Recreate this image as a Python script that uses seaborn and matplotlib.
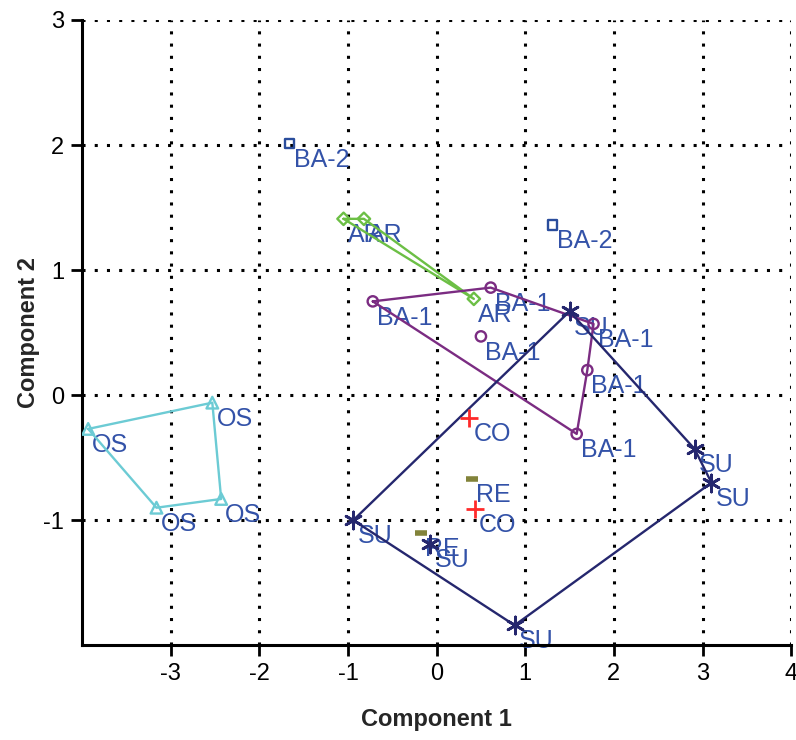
import matplotlib
matplotlib.use("Agg")
import matplotlib.pyplot as plt
import seaborn as sns
import pandas as pd

# ---- data ----
ba2_x = [-1.66, 1.31]
ba2_y = [2.01, 1.36]

ar_x = [-1.05, -0.82, 0.42]
ar_y = [1.41, 1.41, 0.77]
ar_hull = [0, 1, 2, 0]

ba1_x = [-0.72, 0.61, 1.77, 1.70, 1.58, 0.50]
ba1_y = [0.75, 0.86, 0.57, 0.20, -0.31, 0.47]
ba1_hull = [0, 1, 2, 3, 4, 0]

su_x = [1.50, 2.91, 3.10, 0.88, -0.94, -0.07]
su_y = [0.67, -0.43, -0.70, -1.84, -1.00, -1.19]
su_hull = [0, 1, 2, 3, 4, 0]

os_x = [-3.93, -2.53, -2.43, -3.16]
os_y = [-0.27, -0.06, -0.83, -0.90]
os_hull = [0, 1, 2, 3, 0]

co_x = [0.37, 0.43]
co_y = [-0.18, -0.91]

re_x = [0.40, -0.18]
re_y = [-0.67, -1.10]

x_ticks = [-3, -2, -1, 0, 1, 2, 3, 4]
y_ticks = [-1, 0, 1, 2, 3]

groups = [
    ("BA-2", ba2_x, ba2_y, None, "#2a4d9c", "s", 45, False),
    ("AR", ar_x, ar_y, ar_hull, "#6cbf45", "D", 40, False),
    ("BA-1", ba1_x, ba1_y, ba1_hull, "#7b2c82", "o", 55, False),
    ("SU", su_x, su_y, su_hull, "#25276e", (6, 2, 0), 150, True),
    ("OS", os_x, os_y, os_hull, "#6ccbd4", "^", 70, False),
    ("CO", co_x, co_y, None, "#ff2a2a", "+", 150, True),
    ("RE", re_x, re_y, None, "#82833a", "_", 80, True),
]

label_color = "#3352a8"

sns.set_style("white")
plt.rcParams["font.family"] = ["Liberation Sans", "DejaVu Sans"]

fig = plt.figure(figsize=(7.96, 7.40), dpi=100)
ax = fig.add_axes([0.103, 0.128, 0.891, 0.845])

for name, xs, ys, hull, col, mk, sz, lineart in groups:
    df = pd.DataFrame({"x": xs, "y": ys})
    if hull is not None:
        hdf = df.iloc[hull].reset_index(drop=True)
        sns.lineplot(data=hdf, x="x", y="y", sort=False, estimator=None,
                     color=col, linewidth=1.7, ax=ax, zorder=3)
    if lineart:
        lw = 4 if mk == "_" else 2.0
        sns.scatterplot(data=df, x="x", y="y", marker=mk, s=sz, color=col,
                        linewidth=lw, ax=ax, zorder=4)
    else:
        sns.scatterplot(data=df, x="x", y="y", marker=mk, s=sz,
                        facecolor="none", edgecolor=col, linewidth=1.7,
                        ax=ax, zorder=4)
    for xi, yi in zip(xs, ys):
        ax.annotate(name, (xi, yi), xytext=(3, -3), textcoords="offset points",
                    ha="left", va="top", fontsize=18, color=label_color,
                    zorder=2)

ax.set_xlim(-4, 4)
ax.set_ylim(-2, 3)
ax.set_xticks(x_ticks)
ax.set_yticks(y_ticks)
ax.set_xticklabels([str(t) for t in x_ticks])
ax.set_yticklabels([str(t) for t in y_ticks])

for v in x_ticks:
    ax.axvline(v, color="black", linewidth=2.2, linestyle=(0, (1, 3)), zorder=1)
for v in y_ticks:
    ax.axhline(v, color="black", linewidth=2.2, linestyle=(0, (1, 3)), zorder=1)

for s in ["top", "right"]:
    ax.spines[s].set_visible(False)
for s in ["left", "bottom"]:
    ax.spines[s].set_linewidth(2.2)
    ax.spines[s].set_color("black")

ax.tick_params(axis="both", direction="out", length=8, width=2,
               labelsize=17, color="black", labelcolor="black",
               left=True, bottom=True, pad=5)
ax.set_xlabel("Component 1", fontsize=17, fontweight="bold", labelpad=16)
ax.set_ylabel("Component 2", fontsize=17, fontweight="bold", labelpad=2)

fig.savefig("out.png", dpi=100)
